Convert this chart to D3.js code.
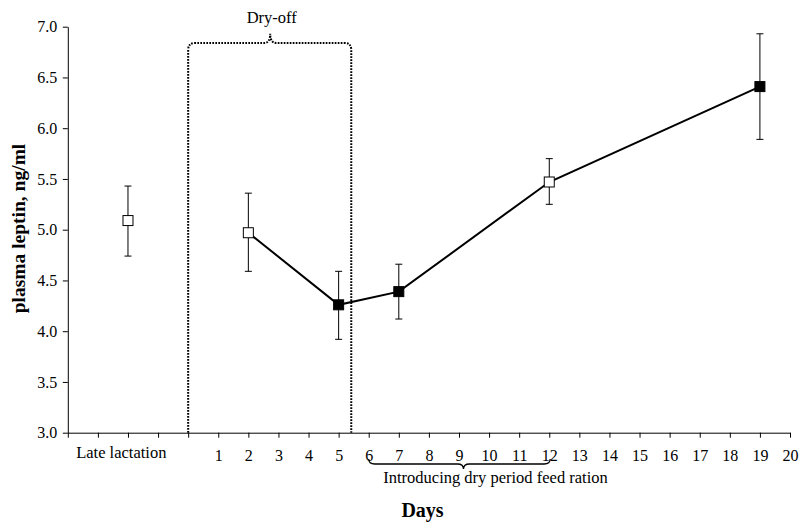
<!DOCTYPE html>
<html>
<head>
<meta charset="utf-8">
<script src="https://cdn.jsdelivr.net/npm/d3@7"></script>
<style>
  body { margin: 0; background: #fff; }
  text { font-family: "Liberation Serif", "Times New Roman", serif; fill: #000; }
</style>
</head>
<body>
<script>
// day -2 stands for the "Late lactation" sample
const days = [-2, 2, 5, 7, 12, 19];
const leptin = [5.09, 4.97, 4.26, 4.39, 5.47, 6.41];
const errLow = [4.74, 4.59, 3.92, 4.12, 5.25, 5.89];
const errHigh = [5.43, 5.36, 4.59, 4.66, 5.70, 6.93];
const filled = [false, false, true, true, false, true];
const joined = [false, true, true, true, true, true];

const dayTicks = d3.range(-4, 21);
const dayLabels = d3.range(1, 21);
const yTicks = [3.0, 3.5, 4.0, 4.5, 5.0, 5.5, 6.0, 6.5, 7.0];

// annotation spans, in data units
const dryOff = [0, 5.42];
const feedRation = [6.0, 12.03, 9.15];

const margin = { top: 26.7, right: 10, bottom: 92.3, left: 67.8 };
const width = 800 - margin.left - margin.right;
const height = 525 - margin.top - margin.bottom;

const xScale = d3.scaleLinear().domain([-4, 20]).range([0, 722.2]);
const yScale = d3.scaleLinear().domain([3, 7]).range([height, 0]);

const svg = d3.select('body')
  .append('svg')
  .attr('width', 800)
  .attr('height', 525)
  .append('g')
  .attr('transform', `translate(${margin.left}, ${margin.top})`);

const points = days.map((d, i) => ({
  day: d, value: leptin[i], lo: errLow[i], hi: errHigh[i], filled: filled[i], joined: joined[i]
}));

// dry-off bracket
const xl = xScale(dryOff[0]), xr = xScale(dryOff[1]);
const xm = (xl + xr) / 2 + 0.5;
const yt = yScale(6.84), yp = yScale(6.93), r = 7;
svg.append('path')
  .attr('d', `M${xl},${height} L${xl},${yt + r} Q${xl},${yt} ${xl + r},${yt} L${xm - 6},${yt}
    Q${xm},${yt} ${xm},${yp} Q${xm},${yt} ${xm + 6},${yt} L${xr - r},${yt}
    Q${xr},${yt} ${xr},${yt + r} L${xr},${height}`)
  .attr('fill', 'none')
  .attr('stroke', '#000')
  .attr('stroke-width', 2)
  .attr('stroke-dasharray', '1.7 1.3');

svg.append('text')
  .attr('x', xm + 1.5)
  .attr('y', 22.5 - margin.top)
  .attr('text-anchor', 'middle')
  .style('font-size', '16.5px')
  .text('Dry-off');

// axes
const xAxis = svg.append('g')
  .attr('transform', `translate(0, ${height})`)
  .call(d3.axisBottom(xScale).tickValues(dayTicks).tickSize(5).tickSizeOuter(0)
    .tickFormat(d => dayLabels.includes(d) ? d : ''));
xAxis.select('.domain').attr('stroke', '#000');
xAxis.selectAll('.tick line').attr('stroke', '#000');
xAxis.selectAll('.tick text')
  .attr('y', 28.5).attr('dy', 0)
  .style('font-size', '16px')
  .style('font-family', '"Liberation Serif", serif');

const yAxis = svg.append('g')
  .call(d3.axisLeft(yScale).tickValues(yTicks).tickSize(5).tickSizeOuter(0)
    .tickFormat(d3.format('.1f')));
yAxis.select('.domain').attr('stroke', '#000');
yAxis.selectAll('.tick line').attr('stroke', '#000');
yAxis.selectAll('.tick text')
  .attr('x', -10.5)
  .style('font-size', '16px')
  .style('font-family', '"Liberation Serif", serif');

svg.append('text')
  .attr('x', 121.3 - margin.left)
  .attr('y', 458.5 - margin.top)
  .attr('text-anchor', 'middle')
  .style('font-size', '16.5px')
  .text('Late lactation');

// feed ration brace under the axis
const b0 = xScale(feedRation[0]), b1 = xScale(feedRation[1]), bc = xScale(feedRation[2]);
const by0 = 459 - margin.top, by1 = 464 - margin.top, by2 = 469 - margin.top;
svg.append('path')
  .attr('d', `M${b0},${by0} Q${b0},${by1} ${b0 + 6},${by1} L${bc - 6},${by1}
    Q${bc},${by1} ${bc},${by2} Q${bc},${by1} ${bc + 6},${by1} L${b1 - 6},${by1} Q${b1},${by1} ${b1},${by0}`)
  .attr('fill', 'none')
  .attr('stroke', '#000')
  .attr('stroke-width', 1.3);

svg.append('text')
  .attr('x', 495.5 - margin.left)
  .attr('y', 483 - margin.top)
  .attr('text-anchor', 'middle')
  .style('font-size', '16.5px')
  .text('Introducing dry period feed ration');

// axis titles
svg.append('text')
  .attr('x', 422.5 - margin.left)
  .attr('y', 517.5 - margin.top)
  .attr('text-anchor', 'middle')
  .style('font-size', '20px')
  .style('font-weight', 'bold')
  .text('Days');

svg.append('text')
  .attr('transform', `translate(${25 - margin.left}, ${228.5 - margin.top}) rotate(-90)`)
  .attr('text-anchor', 'middle')
  .style('font-size', '19.5px')
  .style('font-weight', 'bold')
  .text('plasma leptin, ng/ml');

// error bars
const bars = svg.append('g').attr('stroke', '#000').attr('stroke-width', 1);
bars.selectAll('.err')
  .data(points)
  .join('line')
  .attr('x1', d => xScale(d.day)).attr('x2', d => xScale(d.day))
  .attr('y1', d => yScale(d.lo)).attr('y2', d => yScale(d.hi));
bars.selectAll('.cap')
  .data(points.flatMap(d => [{ day: d.day, v: d.lo }, { day: d.day, v: d.hi }]))
  .join('line')
  .attr('x1', d => xScale(d.day) - 3.5).attr('x2', d => xScale(d.day) + 3.5)
  .attr('y1', d => yScale(d.v)).attr('y2', d => yScale(d.v));

// connecting line
const line = d3.line()
  .x(d => xScale(d.day))
  .y(d => yScale(d.value));

svg.append('path')
  .datum(points.filter(d => d.joined))
  .attr('fill', 'none')
  .attr('stroke', '#000')
  .attr('stroke-width', 2)
  .attr('d', line);

// markers
svg.selectAll('.marker')
  .data(points)
  .join('rect')
  .attr('x', d => xScale(d.day) - 5)
  .attr('y', d => yScale(d.value) - 5)
  .attr('width', 10)
  .attr('height', 10)
  .attr('fill', d => d.filled ? '#000' : '#fff')
  .attr('stroke', '#000')
  .attr('stroke-width', 1);
</script>
</body>
</html>
